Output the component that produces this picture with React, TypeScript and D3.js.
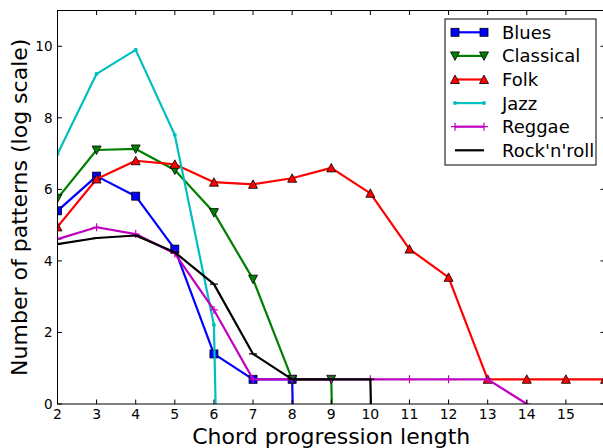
import React from "react";
import * as d3 from "d3";

// chord progression lengths and log(count) per genre; -Infinity = zero patterns
const NEG = -Infinity;
const lengths = [2, 3, 4, 5, 6, 7, 8, 9, 10, 11, 12, 13, 14, 15, 16];
const blues = [5.40, 6.37, 5.81, 4.33, 1.40, 0.69, 0.69, NEG, NEG, NEG, NEG, NEG, NEG, NEG, NEG];
const classical = [5.75, 7.10, 7.13, 6.54, 5.35, 3.49, 0.69, 0.69, NEG, NEG, NEG, NEG, NEG, NEG, NEG];
const folk = [4.95, 6.29, 6.80, 6.70, 6.20, 6.14, 6.31, 6.60, 5.89, 4.33, 3.54, 0.69, 0.69, 0.69, 0.69];
const jazz = [6.99, 9.23, 9.90, 7.52, 2.21, NEG, NEG, NEG, NEG, NEG, NEG, NEG, NEG, NEG, NEG];
const reggae = [4.61, 4.94, 4.75, 4.21, 2.63, 0.69, 0.69, 0.69, 0.69, 0.69, 0.69, 0.69, 0, NEG, NEG];
const rocknroll = [4.47, 4.64, 4.71, 4.24, 3.35, 1.40, 0.69, 0.69, 0.69, NEG, NEG, NEG, NEG, NEG, NEG];

const xTicks = [2, 3, 4, 5, 6, 7, 8, 9, 10, 11, 12, 13, 14, 15];
const yTicks = [0, 2, 4, 6, 8, 10];

type Marker = "square" | "tridown" | "triup" | "dot" | "plus" | "hline";
const series: { name: string; values: number[]; color: string; marker: Marker }[] = [
  { name: "Blues", values: blues, color: "#0000ff", marker: "square" },
  { name: "Classical", values: classical, color: "#008000", marker: "tridown" },
  { name: "Folk", values: folk, color: "#ff0000", marker: "triup" },
  { name: "Jazz", values: jazz, color: "#00bfbf", marker: "dot" },
  { name: "Reggae", values: reggae, color: "#bf00bf", marker: "plus" },
  { name: "Rock'n'roll", values: rocknroll, color: "#000000", marker: "hline" },
];

const W = 603;
const H = 448;
const left = 57.5;
const right = 605;
const top = 10.5;
const bottom = 404;
const FONT = "DejaVu Sans, sans-serif";

function drawMarker(m: Marker, x: number, y: number, color: string, key: string) {
  switch (m) {
    case "square":
      return <rect key={key} x={x - 4} y={y - 4} width={8} height={8} fill={color} stroke="#000" strokeWidth={0.8} />;
    case "tridown":
      return <path key={key} d={`M${x - 4.5},${y - 4}L${x + 4.5},${y - 4}L${x},${y + 4.5}Z`} fill={color} stroke="#000" strokeWidth={0.8} />;
    case "triup":
      return <path key={key} d={`M${x - 4.5},${y + 4}L${x + 4.5},${y + 4}L${x},${y - 4.5}Z`} fill={color} stroke="#000" strokeWidth={0.8} />;
    case "dot":
      return <circle key={key} cx={x} cy={y} r={2} fill={color} />;
    case "plus":
      return <path key={key} d={`M${x - 4},${y}H${x + 4}M${x},${y - 4}V${y + 4}`} stroke={color} strokeWidth={1.2} fill="none" />;
    case "hline":
      return <path key={key} d={`M${x - 4},${y}H${x + 4}`} stroke={color} strokeWidth={1.2} fill="none" />;
  }
}

export default function App() {
  const x = d3.scaleLinear().domain([2, 16]).range([left, right]);
  const y = d3.scaleLinear().domain([0, 11]).range([bottom, top]);
  // log(0) = -inf: draw toward a far-off value, clipped by the axes
  const yv = (v: number) => y(Number.isFinite(v) ? v : -50);
  const line = d3
    .line<number>()
    .x((_, i) => x(lengths[i]))
    .y((v) => yv(v));

  const legX = 445;
  const legY = 19;
  const rowH = 23.6;

  return (
    <svg width={W} height={H} style={{ position: "absolute", left: 0, top: 0, background: "#fff" }} fontFamily={FONT}>
      <defs>
        <clipPath id="plot">
          <rect x={left} y={top} width={right - left} height={bottom - top} />
        </clipPath>
      </defs>
      <rect x={0} y={0} width={W} height={H} fill="#fff" />
      <g clipPath="url(#plot)">
        {series.map((s) => (
          <g key={s.name}>
            <path d={line(s.values) || ""} fill="none" stroke={s.color} strokeWidth={2.2} strokeLinejoin="round" />
            {s.values.map((v, i) =>
              Number.isFinite(v) ? drawMarker(s.marker, x(lengths[i]), y(v), s.color, `${s.name}-${i}`) : null
            )}
          </g>
        ))}
      </g>
      {/* frame */}
      <rect x={left} y={top} width={right - left} height={bottom - top} fill="none" stroke="#000" strokeWidth={1} />
      {xTicks.map((t) => (
        <g key={`x${t}`}>
          <line x1={x(t)} x2={x(t)} y1={bottom} y2={bottom - 4.5} stroke="#000" />
          <line x1={x(t)} x2={x(t)} y1={top} y2={top + 4.5} stroke="#000" />
          <text x={x(t)} y={bottom + 5.5} dy="0.71em" textAnchor="middle" fontSize={14} fill="#000">
            {t}
          </text>
        </g>
      ))}
      {yTicks.map((t) => (
        <g key={`y${t}`}>
          <line x1={left} x2={left + 4.5} y1={y(t)} y2={y(t)} stroke="#000" />
          <line x1={right} x2={right - 4.5} y1={y(t)} y2={y(t)} stroke="#000" />
          <text x={left - 5} y={y(t)} dy="0.35em" textAnchor="end" fontSize={13.5} fill="#000">
            {t}
          </text>
        </g>
      ))}
      <text x={(left + right) / 2} y={444} textAnchor="middle" fontSize={22} fill="#000">
        Chord progression length
      </text>
      <text
        transform={`translate(27,${(top + bottom) / 2}) rotate(-90)`}
        textAnchor="middle"
        fontSize={22}
        fill="#000"
      >
        Number of patterns (log scale)
      </text>
      {/* legend */}
      <rect x={legX} y={legY} width={151} height={146} fill="#fff" stroke="#000" strokeWidth={1} />
      {series.map((s, i) => {
        const cy = legY + 13.3 + i * rowH;
        return (
          <g key={`leg-${s.name}`}>
            <line x1={455} x2={484} y1={cy} y2={cy} stroke={s.color} strokeWidth={2.2} />
            {s.marker !== "hline" && drawMarker(s.marker, 455, cy, s.color, `lm1-${i}`)}
            {s.marker !== "hline" && drawMarker(s.marker, 484, cy, s.color, `lm2-${i}`)}
            <text x={502} y={cy} dy="0.36em" fontSize={18} fill="#000">
              {s.name}
            </text>
          </g>
        );
      })}
    </svg>
  );
}
